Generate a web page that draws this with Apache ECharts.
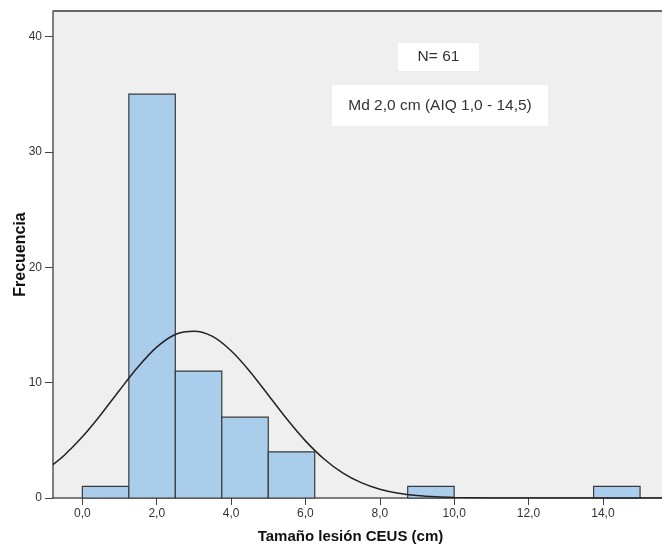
<!DOCTYPE html>
<html>
<head>
<meta charset="utf-8">
<style>
  html, body { margin: 0; padding: 0; background: #fff; }
  #main { width: 662px; height: 548px; }
</style>
<script src="https://cdn.jsdelivr.net/npm/echarts@6/dist/echarts.min.js"></script>
</head>
<body>
<div id="main"></div>
<script>
// histograma: inicio de cada intervalo y su frecuencia
var binStart = [0, 1.25, 2.5, 3.75, 5, 6.25, 7.5, 8.75, 10, 11.25, 12.5, 13.75];
var binCount = [1, 35, 11, 7, 4, 0, 0, 1, 0, 0, 0, 1];
var binWidth = 1.25;

// curva normal (x, frecuencia)
var curveX = [-0.79, -0.5, 0, 0.5, 1, 1.5, 2, 2.5, 3, 3.5, 4, 4.5, 5, 5.5, 6, 6.5, 7, 7.5, 8, 8.5, 9, 9.5, 10, 11, 12, 13, 14, 15, 15.6];
var curveY = [2.9, 3.66, 5.3, 7.24, 9.34, 11.37, 13.07, 14.17, 14.45, 14.0, 12.76, 10.99, 8.92, 6.84, 4.95, 3.38, 2.18, 1.33, 0.76, 0.41, 0.21, 0.1, 0.05, 0.01, 0, 0, 0, 0, 0];

var xTicks = [0, 2, 4, 6, 8, 10, 12, 14];
var yTicks = [0, 10, 20, 30, 40];

var histData = binStart.map(function (s, i) { return [s, s + binWidth, binCount[i]]; })
  .filter(function (d) { return d[2] > 0; });
var curveData = curveX.map(function (x, i) { return [x, curveY[i]]; });

var myChart = echarts.init(document.getElementById('main'));
myChart.setOption({
  backgroundColor: '#fff',
  animation: false,
  textStyle: { fontFamily: 'Liberation Sans, Arial, sans-serif' },
  grid: {
    left: 53, right: 0, top: 11, bottom: 50,
    outerBoundsMode: 'none',
    containLabel: false,
    show: true, backgroundColor: '#efefef', borderWidth: 0
  },
  xAxis: {
    type: 'value',
    min: -0.79, max: 15.59,
    name: 'Tamaño lesión CEUS (cm)',
    nameLocation: 'middle',
    nameGap: 31,
    nameMoveOverlap: false,
    nameTextStyle: { fontSize: 15, fontWeight: 'bold', color: '#111', padding: [0, 14, 0, 0] },
    splitLine: { show: false },
    axisLine: { show: true, onZero: false, lineStyle: { color: '#555', width: 1.5 } },
    axisTick: { show: true, customValues: xTicks, length: 7, lineStyle: { color: '#444' } },
    axisLabel: {
      customValues: xTicks,
      color: '#333', fontSize: 12, margin: 10,
      formatter: function (v) { return v.toFixed(1).replace('.', ','); }
    }
  },
  yAxis: {
    type: 'value',
    min: 0, max: 42.2,
    name: 'Frecuencia',
    nameLocation: 'middle',
    nameGap: 24,
    nameMoveOverlap: false,
    nameTextStyle: { fontSize: 16, fontWeight: 'bold', color: '#111' },
    splitLine: { show: false },
    axisLine: { show: true, onZero: false, lineStyle: { color: '#555', width: 1.5 } },
    axisTick: { show: true, customValues: yTicks, length: 8, lineStyle: { color: '#444' } },
    axisLabel: { customValues: yTicks, color: '#333', fontSize: 12, margin: 11 }
  },
  graphic: [
    // borde superior del area
    { type: 'line', shape: { x1: 53, y1: 11, x2: 662, y2: 11 }, style: { stroke: '#666', lineWidth: 2 }, z: 10 },
    { type: 'rect', shape: { x: 398, y: 43, width: 81, height: 28 }, style: { fill: '#fff' }, z: 5 },
    { type: 'text', x: 438.5, y: 57, style: { text: 'N= 61', fill: '#333', fontSize: 15.5, fontFamily: 'Liberation Sans, Arial', align: 'center', verticalAlign: 'middle' }, z: 6 },
    { type: 'rect', shape: { x: 332, y: 85, width: 216, height: 41 }, style: { fill: '#fff' }, z: 5 },
    { type: 'text', x: 440, y: 106, style: { text: 'Md 2,0 cm (AIQ 1,0 - 14,5)', fill: '#333', fontSize: 15.5, fontFamily: 'Liberation Sans, Arial', align: 'center', verticalAlign: 'middle' }, z: 6 }
  ],
  series: [
    {
      type: 'custom',
      data: histData,
      renderItem: function (params, api) {
        var p0 = api.coord([api.value(0), api.value(2)]);
        var p1 = api.coord([api.value(1), 0]);
        return {
          type: 'rect',
          shape: { x: p0[0], y: p0[1], width: p1[0] - p0[0], height: p1[1] - p0[1] },
          style: { fill: '#aacdec', stroke: '#3a3a3a', lineWidth: 1.2 }
        };
      },
      encode: { x: [0, 1], y: 2 },
      z: 2
    },
    {
      type: 'line',
      data: curveData,
      smooth: 0.3,
      showSymbol: false,
      lineStyle: { color: '#222', width: 1.5 },
      z: 3
    }
  ]
});
</script>
</body>
</html>
